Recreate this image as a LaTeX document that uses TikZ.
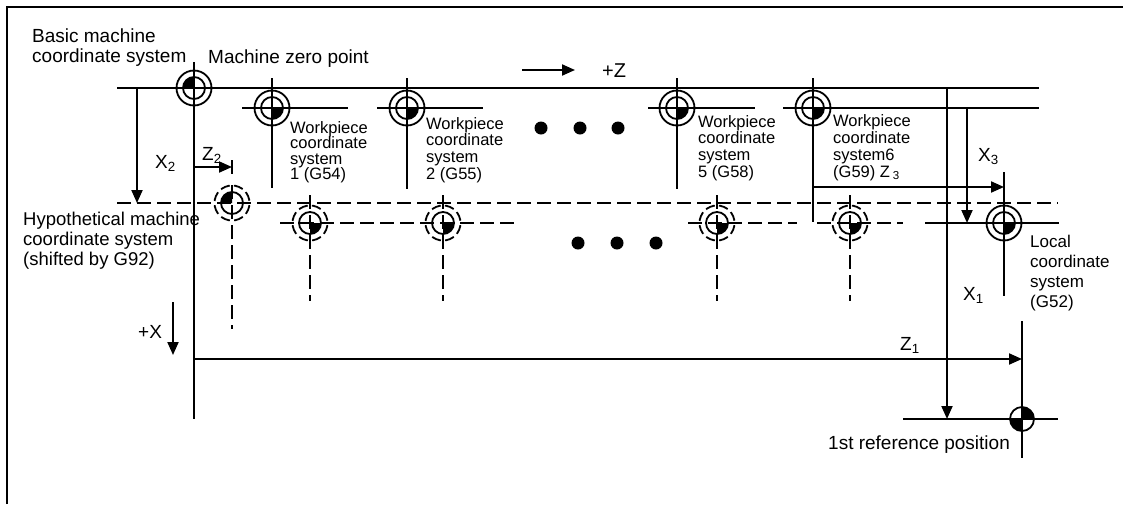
\documentclass[tikz,border=0pt]{standalone}
\usepackage{fontspec}
\setmainfont{Liberation Sans}
\usetikzlibrary{arrows.meta}
\tikzset{
  ax/.style={line width=2pt},
  dax/.style={line width=1.8pt, dash pattern=on 14pt off 6pt},
  arr/.style={line width=2pt, -{Triangle[length=13pt,width=11pt]}},
  sym/.style={line width=1.8pt},
  dsym/.style={line width=1.8pt, dash pattern=on 9.5pt off 4.2pt, dash phase=11.6pt},
  big/.style={font=\fontsize{19}{20}\selectfont, inner sep=0pt, align=left},
  wl/.style={inner sep=0pt, align=left, anchor=north west},
}
\newcommand\wsym[2]{%
  \draw[sym] (#1) circle[radius=17.5];
  \draw[sym] (#1) circle[radius=11];
  \fill (#1) -- ++(#2:11) arc[start angle=#2, delta angle=90, radius=11] -- cycle;
}
\newcommand\hsym[2]{%
  \draw[dsym] (#1) circle[radius=17.5];
  \draw[sym] (#1) circle[radius=11];
  \fill (#1) -- ++(#2:11) arc[start angle=#2, delta angle=90, radius=11] -- cycle;
}
\begin{document}
\begin{tikzpicture}[x=1pt,y=-1pt]
\useasboundingbox (0,0) rectangle (1123,504);
% frame (only top and left edges visible)
\coordinate (fb) at (7,504);
\coordinate (ftl) at (7,7);
\coordinate (fr) at (1123,7);
\draw[line width=2.6pt] (fb) -- (ftl) -- (fr);

% key points
\coordinate (mz) at (194,88);
\coordinate (w1) at (272,108);
\coordinate (w2) at (407,108);
\coordinate (w5) at (677,108);
\coordinate (w6) at (813,108);
\coordinate (h0) at (232,203);
\coordinate (s1) at (310,223);
\coordinate (s2) at (443,223);
\coordinate (s5) at (717,223);
\coordinate (s6) at (850,223);
\coordinate (lc) at (1004,223);
\coordinate (rp) at (1022,419);

% basic machine axes
\coordinate (topL) at (117,88);
\coordinate (topR) at (1039,88);
\draw[ax] (topL) -- (topR);
\coordinate (mzT) at (194,62);
\coordinate (mzB) at (194,419);
\draw[ax] (mzT) -- (mzB);

% workpiece axes
\foreach \n/\x/\xl/\xr/\yb in {w1/272/242/348/188, w2/407/377/483/189, w5/677/648/755/189, w6/813/783/1039/222}{
  \coordinate (\n L) at (\xl,108);
  \coordinate (\n R) at (\xr,108);
  \coordinate (\n T) at (\x,78);
  \coordinate (\n B) at (\x,\yb);
  \draw[ax] (\n L) -- (\n R);
  \draw[ax] (\n T) -- (\n B);
}

% hypothetical machine axes
\coordinate (hL) at (117,203);
\coordinate (hR) at (1058,203);
\draw[dax] (hL) -- (hR);
\coordinate (hT) at (232,185);
\coordinate (hB) at (232,329);
\draw[dax] (hT) -- (hB);

% shifted workpiece axes
\coordinate (r1L) at (280,223); \coordinate (r1R) at (520,223);
\coordinate (r2L) at (688,223); \coordinate (r2R) at (797,223);
\coordinate (r3L) at (817,223); \coordinate (r3R) at (903,223);
\draw[dax] (r1L) -- (r1R);
\draw[dax] (r2L) -- (r2R);
\draw[dax] (r3L) -- (r3R);
\foreach \n/\x in {s1/310, s2/443, s5/717, s6/850}{
  \coordinate (\n T) at (\x,195);
  \coordinate (\n B) at (\x,301);
  \draw[dax] (\n T) -- (\n B);
}

% local coordinate system axes
\coordinate (lcL) at (925,223); \coordinate (lcR) at (1059,223);
\coordinate (lcT) at (1004,172); \coordinate (lcB) at (1004,296);
\draw[ax] (lcL) -- (lcR);
\draw[ax] (lcT) -- (lcB);

% reference position axes
\coordinate (rpL) at (903,419); \coordinate (rpR) at (1058,419);
\coordinate (rpT) at (1022,321); \coordinate (rpB) at (1022,458);
\draw[ax] (rpL) -- (rpR);
\draw[ax] (rpT) -- (rpB);

% symbols
\wsym{mz}{180}
\wsym{w1}{0}
\wsym{w2}{0}
\wsym{w5}{0}
\wsym{w6}{0}
\hsym{h0}{180}
\hsym{s1}{0}
\hsym{s2}{0}
\hsym{s5}{0}
\hsym{s6}{0}
\wsym{lc}{0}
\draw[sym] (rp) circle[radius=12];
\fill (rp) -- ++(270:12) arc[start angle=270, delta angle=90, radius=12] -- cycle;
\fill (rp) -- ++(90:12) arc[start angle=90, delta angle=90, radius=12] -- cycle;

% dots
\foreach \x in {541,580,618}{\fill (\x,128) circle[radius=6.5];}
\foreach \x in {578,617,656}{\fill (\x,243) circle[radius=6.5];}

% arrows
\coordinate (x2a) at (137,88); \coordinate (x2b) at (137,203);
\draw[arr] (x2a) -- (x2b);
\coordinate (z2a) at (194,167); \coordinate (z2b) at (232,167);
\draw[arr] (z2a) -- (z2b);
\coordinate (z2t) at (232,160); \coordinate (z2u) at (232,174);
\draw[ax] (z2t) -- (z2u);
\coordinate (x3a) at (967,108); \coordinate (x3b) at (967,223);
\draw[arr] (x3a) -- (x3b);
\coordinate (z3a) at (813,187); \coordinate (z3b) at (1004,187);
\draw[arr] (z3a) -- (z3b);
\coordinate (x1a) at (947,88); \coordinate (x1b) at (947,419);
\draw[arr] (x1a) -- (x1b);
\coordinate (z1a) at (194,359); \coordinate (z1b) at (1022,359);
\draw[arr] (z1a) -- (z1b);
\coordinate (pza) at (522,70); \coordinate (pzb) at (575,70);
\draw[arr] (pza) -- (pzb);
\coordinate (pxa) at (173,302); \coordinate (pxb) at (173,355);
\draw[arr] (pxa) -- (pxb);

% labels
\node[big, anchor=north west] (tBasic) at (32,29) {Basic machine\\coordinate system};
\node[big, anchor=base west] (tZero) at (208,63) {Machine zero point};
\node[big, anchor=base west, font=\fontsize{20}{20}\selectfont] (tPZ) at (602,77) {+Z};
\node[wl, font=\fontsize{16.5}{15.5}\selectfont] (tW1) at (290,121) {Workpiece\\coordinate\\system\\1 (G54)};
\node[wl, font=\fontsize{16.5}{16.7}\selectfont] (tW2) at (426,117) {Workpiece\\coordinate\\system\\2 (G55)};
\node[wl, font=\fontsize{16.5}{16.7}\selectfont] (tW5) at (698,115) {Workpiece\\coordinate\\system\\5 (G58)};
\node[wl, font=\fontsize{16.5}{17}\selectfont] (tW6) at (833,114) {Workpiece\\coordinate\\system6\\(G59) Z\,\textsubscript{3}};
\node[big, anchor=base west] (tX2) at (155,168) {X\textsubscript{2}};
\node[big, anchor=base west] (tZ2) at (202,160) {Z\textsubscript{2}};
\node[big, anchor=north west, font=\fontsize{18.5}{20}\selectfont] (tHyp) at (23,211.5) {Hypothetical machine\\coordinate system\\(shifted by G92)};
\node[big, anchor=base west] (tX3) at (978,161) {X\textsubscript{3}};
\node[wl, font=\fontsize{17}{20}\selectfont] (tLoc) at (1030,234.5) {Local\\coordinate\\system\\(G52)};
\node[big, anchor=base west] (tX1) at (963,300) {X\textsubscript{1}};
\node[big, anchor=base west] (tPX) at (138,338) {+X};
\node[big, anchor=base west] (tZ1) at (900,350) {Z\textsubscript{1}};
\node[big, anchor=base west] (tRef) at (828,449) {1st reference position};
\end{tikzpicture}
\end{document}
